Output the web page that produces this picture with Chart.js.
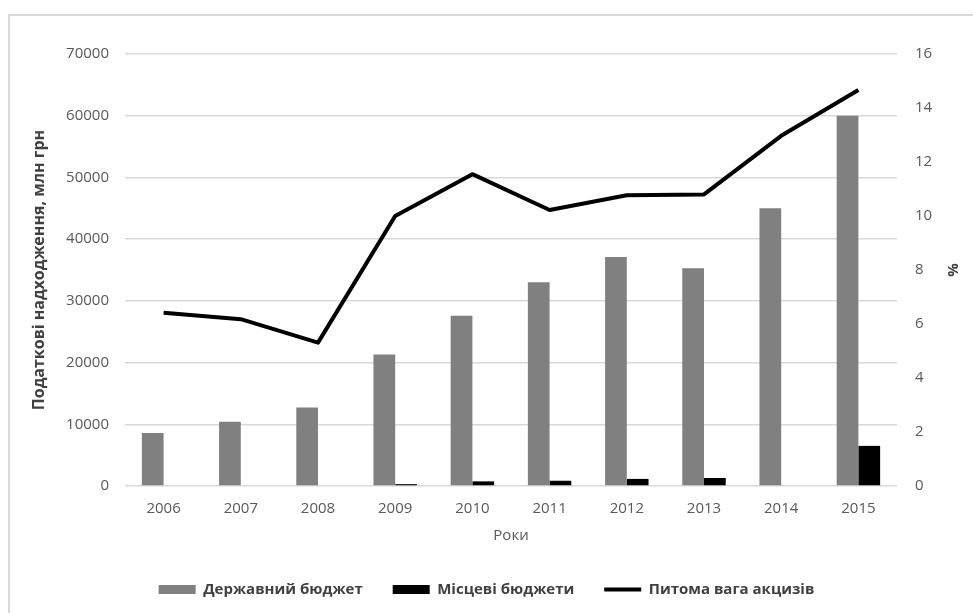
<!DOCTYPE html>
<html lang="uk">
<head>
<meta charset="utf-8">
<script src="https://cdn.jsdelivr.net/npm/chart.js@4"></script>
<style>
  html, body { margin:0; padding:0; background:#fff; overflow:hidden; }
  .frame { position:absolute; left:8px; top:14px; width:2000px; height:2000px; border:2px solid #d9d9d9; }
  .wrap { position:absolute; left:0; top:0; width:973px; height:613px; }
</style>
</head>
<body>
<div class="frame"></div>
<div class="wrap"><canvas id="taxChart"></canvas></div>
<script>
const years = ['2006','2007','2008','2009','2010','2011','2012','2013','2014','2015'];
const stateBudget = [8600, 10400, 12700, 21300, 27600, 33000, 37100, 35300, 45000, 60000];
const localBudgets = [0, 0, 0, 300, 750, 850, 1150, 1300, 0, 6500];
const exciseShare = [6.42, 6.18, 5.31, 10.0, 11.55, 10.22, 10.77, 10.8, 12.97, 14.67];
const leftTicks = [0, 10000, 20000, 30000, 40000, 50000, 60000, 70000];
const rightTicks = [0, 2, 4, 6, 8, 10, 12, 14, 16];

const font = "'Open Sans', 'DejaVu Sans', sans-serif";
const tickColor = '#595959';
const gridColor = '#d9d9d9';

const ctx = document.getElementById('taxChart');
new Chart(ctx, {
  data: {
    labels: years,
    datasets: [
      {
        type: 'bar',
        label: 'Державний бюджет',
        data: stateBudget,
        backgroundColor: '#808080',
        borderWidth: 0,
        yAxisID: 'y',
        categoryPercentage: 0.563,
        barPercentage: 1
      },
      {
        type: 'bar',
        label: 'Місцеві бюджети',
        data: localBudgets,
        backgroundColor: '#000000',
        borderWidth: 0,
        yAxisID: 'y',
        categoryPercentage: 0.563,
        barPercentage: 1
      },
      {
        type: 'line',
        label: 'Питома вага акцизів',
        data: exciseShare,
        borderColor: '#000000',
        backgroundColor: '#000000',
        borderWidth: 4,
        tension: 0,
        pointRadius: 0,
        borderJoinStyle: 'round',
        yAxisID: 'y1'
      }
    ]
  },
  options: {
    responsive: true,
    maintainAspectRatio: false,
    animation: false,
    layout: { padding: { top: 54, bottom: 6, left: 0, right: 0 } },
    plugins: {
      tooltip: { enabled: false },
      legend: {
        position: 'bottom',
        labels: {
          usePointStyle: true,
          pointStyleWidth: 37,
          boxHeight: 9,
          padding: 30,
          color: '#404040',
          font: { family: font, size: 15, weight: 'bold' },
          generateLabels(chart) {
            const items = Chart.defaults.plugins.legend.labels.generateLabels(chart);
            items.forEach(it => { it.pointStyle = it.datasetIndex === 2 ? 'line' : 'rect'; });
            return items;
          }
        }
      }
    },
    scales: {
      x: {
        grid: { display: false, drawTicks: false },
        border: { display: false },
        ticks: { color: tickColor, padding: 14, font: { family: font, size: 15 } },
        title: { display: true, text: 'Роки', color: tickColor, padding: { top: 6, bottom: 7 }, font: { family: font, size: 15 } },
        afterFit(scale) { scale.height = 66; }
      },
      y: {
        position: 'left',
        min: 0,
        max: 70000,
        afterBuildTicks(scale) { scale.ticks = leftTicks.map(v => ({ value: v })); },
        grid: { color: gridColor, lineWidth: 1.5, drawTicks: false },
        border: { display: false },
        ticks: { color: tickColor, padding: 16, font: { family: font, size: 15 }, callback: v => String(v) },
        title: { display: true, text: 'Податкові надходження, млн грн', color: '#404040', padding: { top: 30, bottom: 0 }, font: { family: font, size: 16, weight: 'bold' } },
        afterFit(scale) { scale.width = 125; }
      },
      y1: {
        position: 'right',
        min: 0,
        max: 16,
        afterBuildTicks(scale) { scale.ticks = rightTicks.map(v => ({ value: v })); },
        grid: { display: false, drawTicks: false },
        border: { display: false },
        ticks: { color: tickColor, padding: 18, font: { family: font, size: 15 }, callback: v => String(v) },
        title: { display: true, text: '%', color: '#404040', padding: { top: 12, bottom: 0 }, font: { family: font, size: 15, weight: 'bold' } },
        afterFit(scale) { scale.width = 76; }
      }
    }
  }
});
</script>
</body>
</html>
